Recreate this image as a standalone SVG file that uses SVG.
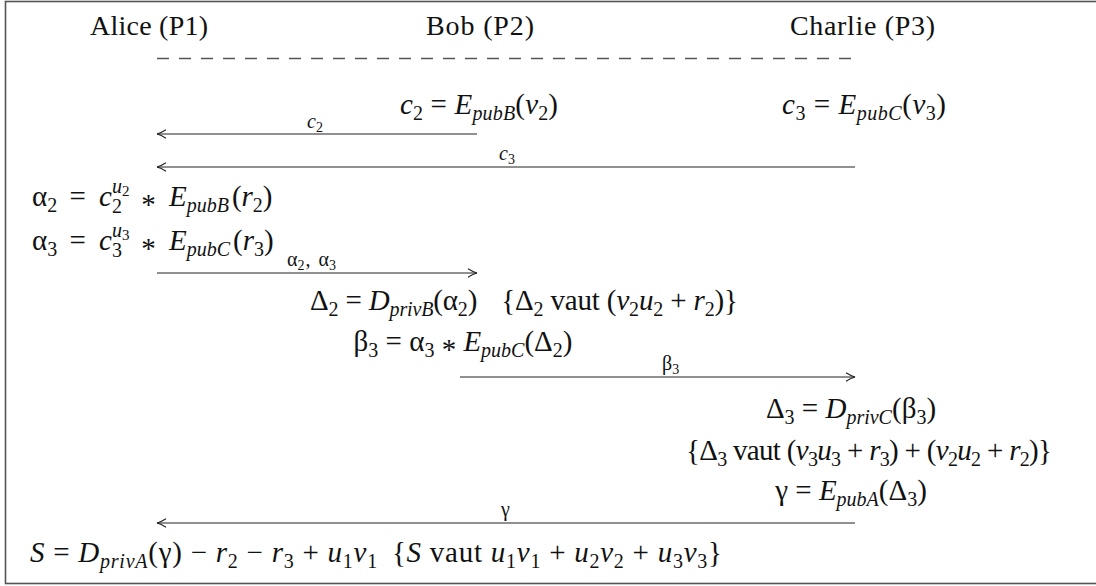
<svg xmlns="http://www.w3.org/2000/svg" width="1096" height="586" viewBox="0 0 1096 586">
<defs>
<style>
text{font-family:"Liberation Serif","Times New Roman","DejaVu Serif",serif;fill:#111}
.h{font-size:28px}
.m{font-size:29px}
.i{font-style:italic}
.s{font-size:20px}
.ss{font-size:15px}
.lb{font-size:20px}
.ls{font-size:14px}
.ln{stroke:#222;stroke-width:1.2;fill:none}
</style>
<marker id="ah" markerWidth="12" markerHeight="12" refX="10" refY="6" orient="auto" markerUnits="userSpaceOnUse">
<path d="M1,1.8 Q6,5 10,6 Q6,7 1,10.2" fill="none" stroke="#222" stroke-width="1.1"/>
</marker>
</defs>
<rect x="5.5" y="1.5" width="1100" height="582" fill="#fff" stroke="#555" stroke-width="1.6"/>

<g id="headers" font-family="Liberation Serif, serif">
<text class="h" x="90" y="35" textLength="118" lengthAdjust="spacing">Alice (P1)</text>
<text class="h" x="426" y="35" textLength="108" lengthAdjust="spacing">Bob (P2)</text>
<text class="h" x="790" y="35" textLength="145" lengthAdjust="spacing">Charlie (P3)</text>
</g>

<g id="connectors">
<line x1="157" y1="58.5" x2="855" y2="58.5" stroke="#555" stroke-width="1.3" stroke-dasharray="12 10"/>
<path class="ln" d="M477,134 L157,134" marker-end="url(#ah)"/>
<path class="ln" d="M855,167 L157,167" marker-end="url(#ah)"/>
<path class="ln" d="M157,273 L477,273" marker-end="url(#ah)"/>
<path class="ln" d="M460,377 L855,377" marker-end="url(#ah)"/>
<path class="ln" d="M855,523 L157,523" marker-end="url(#ah)"/>
</g>

<g id="labels" font-family="Liberation Serif, serif">
<text class="lb" x="307" y="128"><tspan class="i">c</tspan><tspan class="ls" dy="4">2</tspan></text>
<text class="lb" x="499" y="160"><tspan class="i">c</tspan><tspan class="ls" dy="4">3</tspan></text>
<text class="lb" x="287" y="266">α<tspan class="ls" dy="4">2</tspan><tspan dy="-4" dx="1">,</tspan><tspan dx="8">α</tspan><tspan class="ls" dy="4">3</tspan></text>
<text class="lb" x="662" y="370">β<tspan class="ls" dy="4">3</tspan></text>
<text class="lb" x="501" y="516">γ</text>
</g>

<g id="bob-c2" font-family="Liberation Serif, serif">
<text class="m" x="400" y="114" textLength="158" lengthAdjust="spacing"><tspan class="i">c</tspan><tspan class="s" dy="6">2</tspan><tspan dy="-6"> = </tspan><tspan class="i">E</tspan><tspan class="s i" dy="6">pubB</tspan><tspan dy="-6">(</tspan><tspan class="i">v</tspan><tspan class="s" dy="6">2</tspan><tspan dy="-6">)</tspan></text>
</g>
<g id="charlie-c3" font-family="Liberation Serif, serif">
<text class="m" x="782" y="114" textLength="164" lengthAdjust="spacing"><tspan class="i">c</tspan><tspan class="s" dy="6">3</tspan><tspan dy="-6"> = </tspan><tspan class="i">E</tspan><tspan class="s i" dy="6">pubC</tspan><tspan dy="-6">(</tspan><tspan class="i">v</tspan><tspan class="s" dy="6">3</tspan><tspan dy="-6">)</tspan></text>
</g>
<g id="alice-alpha2" font-family="Liberation Serif, serif">
<text class="m" x="32" y="206">α<tspan class="s" dy="6">2</tspan><tspan dy="-6" dx="5"> = </tspan><tspan class="i" dx="6">c</tspan><tspan class="s i" dy="-13">u</tspan><tspan class="ss" dy="3">2</tspan><tspan class="s" dx="-17.5" dy="17">2</tspan><tspan dx="12" dy="-7"> </tspan><tspan dy="8">*</tspan><tspan dy="-8" dx="6"> </tspan><tspan class="i">E</tspan><tspan class="s i" dy="6">pubB</tspan><tspan dy="-6" dx="3">(</tspan><tspan class="i">r</tspan><tspan class="s" dy="6">2</tspan><tspan dy="-6">)</tspan></text>
</g>
<g id="alice-alpha3" font-family="Liberation Serif, serif">
<text class="m" x="32" y="250">α<tspan class="s" dy="6">3</tspan><tspan dy="-6" dx="5"> = </tspan><tspan class="i" dx="6">c</tspan><tspan class="s i" dy="-13">u</tspan><tspan class="ss" dy="3">3</tspan><tspan class="s" dx="-17.5" dy="17">3</tspan><tspan dx="12" dy="-7"> </tspan><tspan dy="8">*</tspan><tspan dy="-8" dx="6"> </tspan><tspan class="i">E</tspan><tspan class="s i" dy="6">pubC</tspan><tspan dy="-6" dx="3">(</tspan><tspan class="i">r</tspan><tspan class="s" dy="6">3</tspan><tspan dy="-6">)</tspan></text>
</g>
<g id="bob-delta2" font-family="Liberation Serif, serif">
<text class="m" x="310" y="310" textLength="428" lengthAdjust="spacing">Δ<tspan class="s" dy="6">2</tspan><tspan dy="-6"> = </tspan><tspan class="i">D</tspan><tspan class="s i" dy="6">privB</tspan><tspan dy="-6">(α</tspan><tspan class="s" dy="6">2</tspan><tspan dy="-6">)</tspan><tspan dx="24">{Δ</tspan><tspan class="s" dy="6">2</tspan><tspan dy="-6"> vaut (</tspan><tspan class="i">v</tspan><tspan class="s" dy="6">2</tspan><tspan class="i" dy="-6">u</tspan><tspan class="s" dy="6">2</tspan><tspan dy="-6"> + </tspan><tspan class="i">r</tspan><tspan class="s" dy="6">2</tspan><tspan dy="-6">)}</tspan></text>
</g>
<g id="bob-beta3" font-family="Liberation Serif, serif">
<text class="m" x="463" y="351" text-anchor="middle">β<tspan class="s" dy="6">3</tspan><tspan dy="-6"> = α</tspan><tspan class="s" dy="6">3</tspan><tspan dy="-6"> </tspan><tspan dy="8">*</tspan><tspan dy="-8"> </tspan><tspan class="i">E</tspan><tspan class="s i" dy="6">pubC</tspan><tspan dy="-6">(Δ</tspan><tspan class="s" dy="6">2</tspan><tspan dy="-6">)</tspan></text>
</g>
<g id="charlie-delta3" font-family="Liberation Serif, serif">
<text class="m" x="851" y="418" text-anchor="middle">Δ<tspan class="s" dy="6">3</tspan><tspan dy="-6"> = </tspan><tspan class="i">D</tspan><tspan class="s i" dy="6">privC</tspan><tspan dy="-6">(β</tspan><tspan class="s" dy="6">3</tspan><tspan dy="-6">)</tspan></text>
<text class="m" x="686" y="460" textLength="366" lengthAdjust="spacing">{Δ<tspan class="s" dy="6">3</tspan><tspan dy="-6"> vaut (</tspan><tspan class="i">v</tspan><tspan class="s" dy="6">3</tspan><tspan class="i" dy="-6">u</tspan><tspan class="s" dy="6">3</tspan><tspan dy="-6"> + </tspan><tspan class="i">r</tspan><tspan class="s" dy="6">3</tspan><tspan dy="-6">) + (</tspan><tspan class="i">v</tspan><tspan class="s" dy="6">2</tspan><tspan class="i" dy="-6">u</tspan><tspan class="s" dy="6">2</tspan><tspan dy="-6"> + </tspan><tspan class="i">r</tspan><tspan class="s" dy="6">2</tspan><tspan dy="-6">)}</tspan></text>
</g>
<g id="charlie-gamma" font-family="Liberation Serif, serif">
<text class="m" x="851" y="500" text-anchor="middle">γ = <tspan class="i">E</tspan><tspan class="s i" dy="6">pubA</tspan><tspan dy="-6">(Δ</tspan><tspan class="s" dy="6">3</tspan><tspan dy="-6">)</tspan></text>
</g>
<g id="alice-sum" font-family="Liberation Serif, serif">
<text class="m" x="30" y="562" textLength="692" lengthAdjust="spacing"><tspan class="i">S</tspan> = <tspan class="i">D</tspan><tspan class="s i" dy="6">privA</tspan><tspan dy="-6">(γ) − </tspan><tspan class="i">r</tspan><tspan class="s" dy="6">2</tspan><tspan dy="-6"> − </tspan><tspan class="i">r</tspan><tspan class="s" dy="6">3</tspan><tspan dy="-6"> + </tspan><tspan class="i">u</tspan><tspan class="s" dy="6">1</tspan><tspan class="i" dy="-6">v</tspan><tspan class="s" dy="6">1</tspan><tspan dx="14" dy="-6">{</tspan><tspan class="i">S</tspan> vaut <tspan class="i">u</tspan><tspan class="s" dy="6">1</tspan><tspan class="i" dy="-6">v</tspan><tspan class="s" dy="6">1</tspan><tspan dy="-6"> + </tspan><tspan class="i">u</tspan><tspan class="s" dy="6">2</tspan><tspan class="i" dy="-6">v</tspan><tspan class="s" dy="6">2</tspan><tspan dy="-6"> + </tspan><tspan class="i">u</tspan><tspan class="s" dy="6">3</tspan><tspan class="i" dy="-6">v</tspan><tspan class="s" dy="6">3</tspan><tspan dy="-6">}</tspan></text>
</g>
</svg>
